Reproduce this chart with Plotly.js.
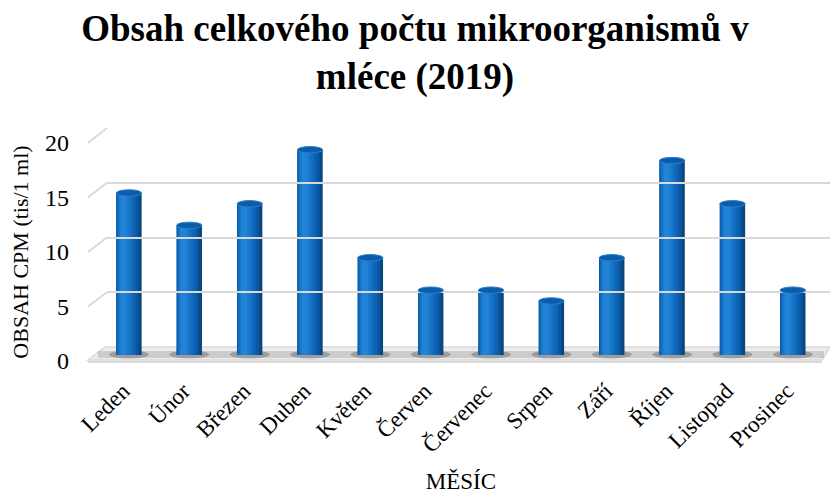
<!DOCTYPE html>
<html>
<head>
<meta charset="utf-8">
<script src="https://cdn.plot.ly/plotly-3.0.1.min.js"></script>
<style>
  html, body { margin: 0; padding: 0; background: #ffffff; }
  #chart { width: 830px; height: 494px; }
</style>
</head>
<body>
<div id="chart"></div>
<script>
// Monthly total microorganism count in milk, 2019 (thousands per ml)
const months = ['Leden', 'Únor', 'Březen', 'Duben', 'Květen', 'Červen',
                'Červenec', 'Srpen', 'Září', 'Říjen', 'Listopad', 'Prosinec'];
const cpm = [15, 12, 14, 19, 9, 6, 6, 5, 9, 18, 14, 6];
const yTicks = [0, 5, 10, 15, 20];

const W = 830, H = 494;
const px = x => x / W;            // horizontal pixel -> paper
const py = y => (H - y) / H;      // vertical pixel -> paper

// Pseudo-3D geometry: front label axis, bar axis and back wall
const front = { y0: 361, y20: 143 };
const bars  = { y0: 355, y20: 139 };
const back  = { y0: 347, y20: 128 };
const frontX = 88, backX = 107;
const yMax = 20;

const toPy = (ax, v) => py(ax.y0 + (ax.y20 - ax.y0) * v / yMax);

// Cylinder body shading: stacked overlay bars, dark rim to light highlight
const barW = 0.42;
const shades = [
  { off: -0.21, w: 0.42, c: '#09477f' },
  { off: -0.21, w: 0.37, c: '#0b56a0' },
  { off: -0.20, w: 0.31, c: '#0d63b4' },
  { off: -0.185, w: 0.24, c: '#136fc2' },
  { off: -0.165, w: 0.17, c: '#1a79cd' },
  { off: -0.14, w: 0.10, c: '#2183d6' }
];

const traces = shades.map(s => ({
  type: 'bar', x: months, y: cpm, width: s.w, offset: s.off,
  marker: { color: s.c, line: { width: 0 } },
  hoverinfo: 'skip', showlegend: false, xaxis: 'x', yaxis: 'y'
}));
traces.push({ type: 'scatter', x: [], y: [], xaxis: 'x2', yaxis: 'y2', showlegend: false, hoverinfo: 'skip' });
traces.push({ type: 'scatter', x: [], y: [], xaxis: 'x3', yaxis: 'y3', showlegend: false, hoverinfo: 'skip' });

const shapes = [];

// floor slab
shapes.push({
  type: 'path', xref: 'paper', yref: 'paper', layer: 'below',
  path: `M ${px(frontX)} ${py(360)} L ${px(backX - 2)} ${py(347)} L ${px(830)} ${py(347)} L ${px(822)} ${py(360)} Z`,
  fillcolor: '#ececec', line: { color: '#d9d9d9', width: 1.5 }
});
shapes.push({
  type: 'line', xref: 'paper', yref: 'paper', layer: 'below',
  x0: px(frontX), x1: px(822), y0: py(362), y1: py(362),
  line: { color: '#dadada', width: 2 }
});
// shadow band along the floor
shapes.push({
  type: 'rect', xref: 'paper', yref: 'paper', layer: 'below',
  x0: px(98), x1: px(824), y0: py(358), y1: py(351),
  fillcolor: 'rgba(130,130,130,0.3)', line: { width: 0 }
});
// soft shadows at each column base
months.forEach((m, i) => {
  shapes.push({
    type: 'circle', xref: 'x', yref: 'paper', layer: 'below',
    x0: i - 0.33, x1: i + 0.33, y0: py(358.5), y1: py(350.5),
    fillcolor: 'rgba(70,70,70,0.35)', line: { width: 0 }
  });
});

// side-wall diagonals joining the front scale to the back-wall gridlines
yTicks.slice(1).forEach(v => {
  shapes.push({
    type: 'line', xref: 'paper', yref: 'paper', layer: 'below',
    x0: px(frontX), y0: toPy(front, v), x1: px(backX), y1: toPy(back, v),
    line: { color: '#d9d9d9', width: 2 }
  });
});

// elliptical caps on the cylinders
cpm.forEach((v, i) => {
  shapes.push({
    type: 'circle', xref: 'x', yref: 'y', layer: 'above',
    x0: i - barW / 2, x1: i + barW / 2, y0: v - 0.3, y1: v + 0.3,
    fillcolor: '#0b5cab', line: { color: '#2b7fcc', width: 1 }
  });
  shapes.push({
    type: 'circle', xref: 'x', yref: 'y', layer: 'below',
    x0: i - barW / 2, x1: i + barW / 2, y0: -0.3, y1: 0.3,
    fillcolor: '#0b5aa5', line: { width: 0 }
  });
});

const serif = 'Liberation Serif, Times New Roman, serif';

const layout = {
  width: W, height: H,
  margin: { l: 0, r: 0, t: 0, b: 0 },
  paper_bgcolor: '#ffffff',
  plot_bgcolor: 'rgba(0,0,0,0)',
  barmode: 'overlay',
  font: { family: serif, color: '#000000' },
  title: {
    text: '<b>Obsah celkového počtu mikroorganismů v<br>mléce (2019)</b>',
    font: { family: serif, size: 37, color: '#000000' },
    x: 0.5, xanchor: 'center', xref: 'paper',
    y: 1 - 41 / H, yanchor: 'top', yref: 'container'
  },
  xaxis: {
    domain: [px(98.8), px(823)],
    type: 'category', range: [-0.5, 11.5],
    showgrid: false, zeroline: false, showline: false, ticks: '',
    tickangle: -45, tickfont: { family: serif, size: 23 },
    ticklabelstandoff: 17, ticklabelshift: -6,
    title: { text: 'MĚSÍC', font: { family: serif, size: 23 }, standoff: 18 },
    anchor: 'y', fixedrange: true
  },
  yaxis: {
    domain: [toPy(bars, 0), toPy(bars, 20)],
    range: [0, yMax], showgrid: false, zeroline: false, showline: false,
    showticklabels: false, ticks: '', anchor: 'x', fixedrange: true
  },
  xaxis2: {
    domain: [px(70), px(800)], range: [0, 1], visible: false,
    anchor: 'y2', fixedrange: true
  },
  yaxis2: {
    domain: [toPy(front, 0), toPy(front, 20)],
    range: [0, yMax], tickvals: yTicks, ticks: '',
    showgrid: false, zeroline: false, showline: false,
    tickfont: { family: serif, size: 24 },
    title: { text: 'OBSAH CPM (tis/1 ml)', font: { family: serif, size: 22 }, standoff: 10 },
    anchor: 'x2', fixedrange: true
  },
  xaxis3: {
    domain: [px(backX), 1], range: [0, 1], visible: false,
    anchor: 'y3', fixedrange: true
  },
  yaxis3: {
    domain: [toPy(back, 0), toPy(back, 20)],
    range: [0, yMax], tickvals: yTicks.slice(1), ticks: '',
    showticklabels: false, showgrid: true, gridcolor: '#d9d9d9', gridwidth: 2,
    zeroline: false, showline: false, anchor: 'x3', fixedrange: true
  },
  shapes: shapes
};

Plotly.newPlot('chart', traces, layout, { displayModeBar: false, staticPlot: true });
</script>
</body>
</html>
